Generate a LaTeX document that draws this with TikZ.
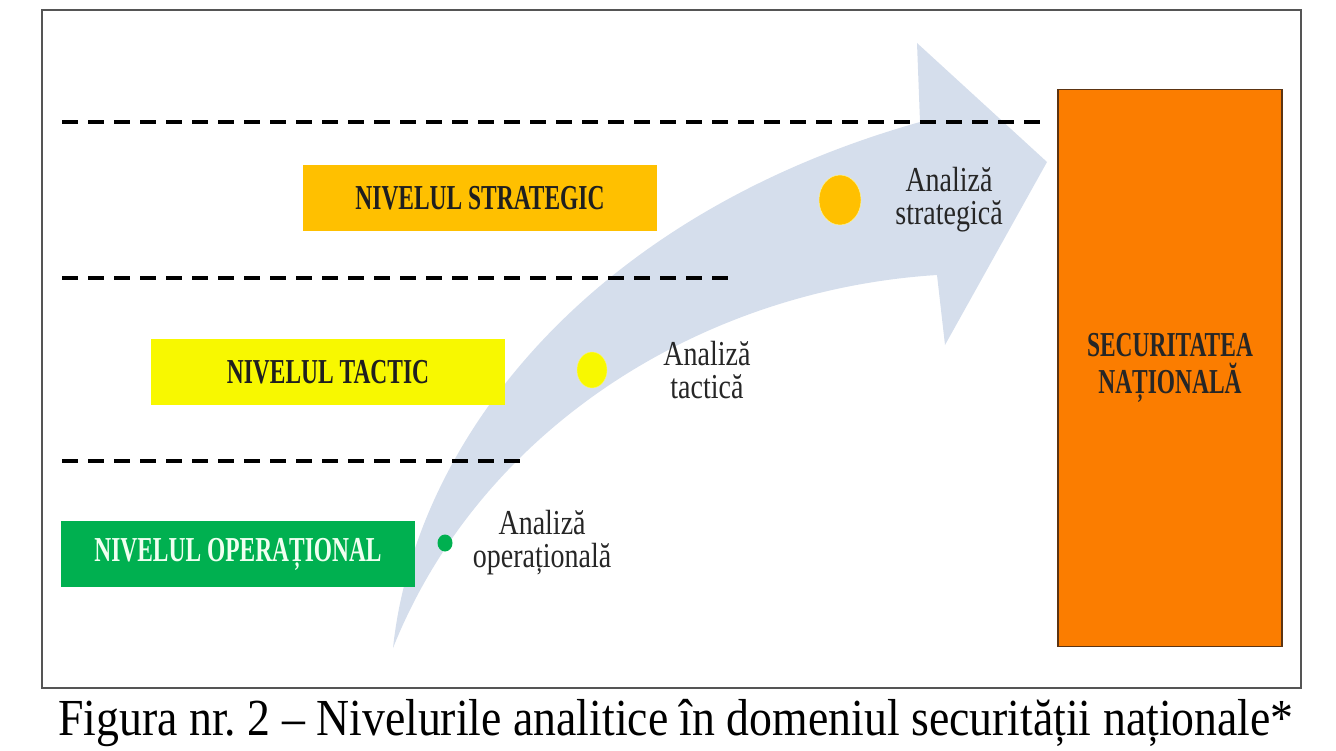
\documentclass[tikz,border=0pt]{standalone}
\usepackage{fontspec}
\setmainfont{Liberation Serif}
\newfontfamily\boxfont{Liberation Serif}[FakeStretch=0.67]
\newfontfamily\notefont{Liberation Serif}[FakeStretch=0.8]
\newfontfamily\capfont{Liberation Serif}[FakeStretch=0.88]
\usepackage{tikz}
\usetikzlibrary{positioning,shapes.geometric}
\definecolor{nstrat}{HTML}{FFC000}
\definecolor{ntact}{HTML}{F8F800}
\definecolor{nop}{HTML}{00B050}
\definecolor{nsec}{HTML}{FB7D00}
\definecolor{nsecline}{HTML}{5C3412}
\definecolor{narrow}{HTML}{D5DEEC}
\definecolor{nframe}{HTML}{555555}

\begin{document}
\begin{tikzpicture}[x=1pt, y=-1pt,
  lvl/.style={minimum width=354pt, minimum height=66pt, inner sep=0pt,
    font=\boxfont\bfseries\fontsize{35}{35}\selectfont, text=black!88},
  sec/.style={draw=nsecline, line width=1.5pt, fill=nsec, minimum width=224pt,
    minimum height=557pt, align=center, text=black!85,
    font=\boxfont\bfseries\fontsize{35}{35}\selectfont},
  note/.style={align=center, inner sep=0pt, text=black!85,
    font=\notefont\fontsize{35}{33}\selectfont},
  spot/.style={ellipse, inner sep=0pt},
  dashln/.style={line width=4.5pt, dash pattern=on 16pt off 10pt}]
\useasboundingbox (0,0) rectangle (1336,751);
\draw[nframe, line width=2pt] (42,10) rectangle (1301,688);
% the rising arrow
\fill[narrow] (393,648) .. controls (415,440) and (590,215) .. (920,122)
  -- (917,43) -- (1047,162) -- (945,345) -- (937,275)
  .. controls (700,290) and (480,430) .. (393,648) -- cycle;
% level borders
\draw[dashln] (62,122) -- (1045,122);
\draw[dashln] (62,278) -- (735,278);
\draw[dashln] (62,461) -- (520,461);
% levels
\node[lvl, fill=nstrat] (strat) at (480,198) {NIVELUL STRATEGIC};
\node[lvl, fill=ntact] (tact) at (328,372) {NIVELUL TACTIC};
\node[lvl, fill=nop, text=white!94!green] (oper) at (238,554) {NIVELUL OPERAȚIONAL};
\node[sec] (secnat) at (1170,368) {SECURITATEA\\[2pt]NAȚIONALĂ};
% analyses on the arrow
\node[spot, fill=nop, minimum width=15pt, minimum height=17pt] (dop) at (445,543) {};
\node[spot, fill=ntact, draw=yellow!60, minimum width=30pt, minimum height=36pt] (dtac) at (592,370) {};
\node[spot, fill=nstrat, draw=yellow!40, minimum width=42pt, minimum height=50pt] (dstr) at (840,200) {};
\node[note, right=20pt of dop] (aop) {Analiză\\operațională};
\node[note, right=56pt of dtac] (atac) {Analiză\\tactică};
\node[note, right=34pt of dstr] (astr) {Analiză\\strategică};
\node[anchor=base, font=\capfont\fontsize{52}{56}\selectfont] (cap) at (676,735)
  {Figura nr.~2 – Nivelurile analitice în domeniul securității naționale*};
\end{tikzpicture}
\end{document}
